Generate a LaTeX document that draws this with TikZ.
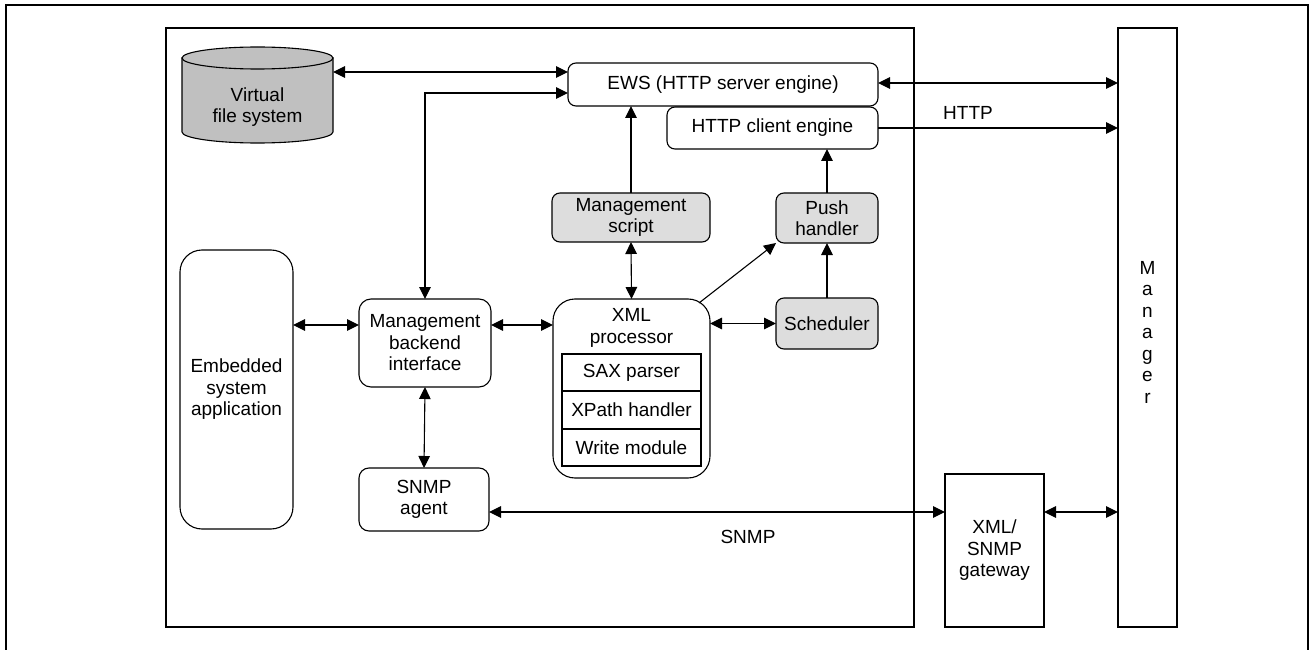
\documentclass[tikz,border=0pt]{standalone}
\usepackage{fontspec}
\setmainfont{Liberation Sans}
\usetikzlibrary{arrows.meta}
\definecolor{boxgray}{RGB}{221,221,221}
\definecolor{drumgray}{RGB}{192,192,192}
\begin{document}
\begin{tikzpicture}[x=1pt,y=-1pt,
  font=\fontsize{19}{21.5}\selectfont,
  every node/.style={align=center, inner sep=0pt, outer sep=0pt},
  blk/.style={draw, line width=1.1pt, rounded corners=#1},
  blk/.default=8pt,
  plain/.style={draw, line width=1.1pt},
  shaded/.style={fill=boxgray},
  tip/.tip={Triangle[length=12pt,width=11.5pt]},
  arr/.style={line width=1.1pt, -tip},
  dbl/.style={line width=1.1pt, tip-tip},
  sz/.style 2 args={minimum width=#1pt, minimum height=#2pt}
]
\useasboundingbox (0,0) rectangle (1310,650);

% page frame (open at the bottom)
\draw[line width=1.3pt] (6,650) -- (6,5) -- (1308,5) -- (1308,650);

% embedded device boundary
\draw[line width=1.1pt] (166,28) rectangle (914,627);

% virtual file system drum
\draw[line width=1.1pt, fill=drumgray] (182,58) -- (182,132)
  arc[start angle=180, end angle=360, x radius=75.5pt, y radius=11pt] -- (333,58) -- cycle;
\draw[line width=1.1pt, fill=drumgray] (257.5,58) ellipse[x radius=75.5pt, y radius=11pt];
\node[sz={151}{96}] (vfs) at (257.5,95) {};
\node (vfslbl) at (257.5,107) {Virtual\\file system};

% web server side
\node[blk, sz={310}{43}] (ews) at (723,84.5) {EWS (HTTP server engine)};
\node[blk, sz={211}{42}] (client) at (772.5,128) {HTTP client engine};
\node[blk, shaded, sz={158}{49}] (script) at (631,217.5) {Management\\script};
\node[blk, shaded, sz={102}{50}] (push) at (827,218) {Push\\handler};
\node[blk, shaded, sz={102}{51}] (sched) at (827,323.5) {Scheduler};

% management core
\node[blk=12pt, sz={132}{88}] (backend) at (425,343) {Management\\backend\\interface};
\node[blk=22pt, sz={113}{279}] (embedded) at (236.5,389.5) {Embedded\\system\\application};
\node[blk=10pt, sz={130}{63}] (snmp) at (424,499.5) {SNMP\\agent};

% XML processor with its modules
\node[blk=22pt, sz={157}{179}] (xml) at (631.5,388.5) {};
\node (xmllbl) at (631.5,328) {XML\\processor};
\node[plain, sz={139}{37}] (sax) at (631.5,372.5) {SAX parser};
\node[plain, sz={139}{38}] (xpath) at (631.5,410) {XPath handler};
\node[plain, sz={139}{37}] (write) at (631.5,447.5) {Write module};

% external parts
\node[plain, sz={99}{153}] (gw) at (994.5,550.5) {XML/\\SNMP\\gateway};
\node[plain, sz={59}{599}] (mgr) at (1147.5,327.5) {};
\node (mgrlbl) at (1147.5,332) {M\\a\\n\\a\\g\\e\\r};

% connectors
\draw[dbl] (vfs.east |- 0,72) -- (ews.west |- 0,72);
\draw[dbl] (backend.north) |- (ews.west |- 0,93);
\draw[dbl] (ews.east |- 0,83) -- (mgr.west |- 0,83);
\draw[arr] (client.east) -- (mgr.west |- client.east);
\node (httplbl) at (968,113) {HTTP};
\draw[arr] (script.north) -- (script.north |- ews.south);
\draw[arr] (push.north) -- (push.north |- client.south);
\draw[arr] (sched.north) -- (push.south);
\draw[dbl] (script.south) -- (xml.north);
\coordinate (xmlcorner) at (699,303);
\draw[arr] (xmlcorner) -- (push.south west);
\draw[dbl] (xml.east |- sched.west) -- (sched.west);
\draw[dbl] (embedded.east |- 0,325) -- (backend.west |- 0,325);
\draw[dbl] (backend.east |- 0,325) -- (xml.west |- 0,325);
\draw[dbl] (backend.south) -- (snmp.north);
\draw[dbl] (snmp.east |- 0,512) -- (gw.west |- 0,512);
\node (snmplbl) at (748,537) {SNMP};
\draw[dbl] (gw.east |- 0,512) -- (mgr.west |- 0,512);
\end{tikzpicture}
\end{document}
